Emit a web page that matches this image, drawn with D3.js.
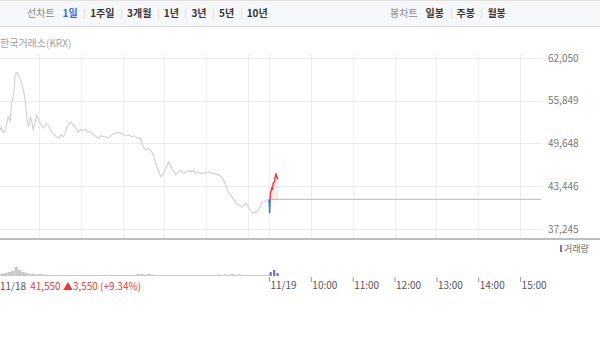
<!DOCTYPE html>
<html>
<head>
<meta charset="utf-8">
<script src="https://cdn.jsdelivr.net/npm/d3@7"></script>
<style>
    body { margin: 0; background: #fff; }
    svg { display: block; font-family: "Noto Sans CJK KR", "Noto Sans", sans-serif; }
</style>
</head>
<body>
<div id="chart-container"></div>
<script>
(function () {
    'use strict';

    var width = 600;
    var height = 343;

    // 11/18 (previous session) price points
    var prevTimes = ['09:00', '09:02', '09:04', '09:06', '09:09', '09:12', '09:14', '09:16', '09:19', '09:21', '09:24',
        '09:26', '09:28', '09:31', '09:34', '09:38', '09:41', '09:43', '09:45', '09:48', '09:50', '09:52', '09:55',
        '09:57', '10:00', '10:02', '10:05', '10:07', '10:11', '10:14', '10:18', '10:22', '10:25', '10:28', '10:32', '10:35',
        '10:38', '10:40', '10:43', '10:46', '10:50', '10:54', '10:57', '11:00', '11:02', '11:07', '11:10', '11:12', '11:16',
        '11:21', '11:26', '11:29', '11:31', '11:36', '11:40', '11:44', '11:49', '11:54', '12:00', '12:05', '12:09',
        '12:13', '12:17', '12:20', '12:26', '12:28', '12:30', '12:33', '12:36', '12:40', '12:43', '12:45', '12:49',
        '12:52', '12:55', '12:59', '13:03', '13:06', '13:10', '13:13', '13:16', '13:20', '13:23', '13:27', '13:31',
        '13:35', '13:39', '13:42', '13:44', '13:49', '13:52', '13:55', '14:00', '14:04', '14:08', '14:13', '14:18',
        '14:22', '14:25', '14:28', '14:30', '14:32', '14:35', '14:37', '14:40', '14:42', '14:45', '14:47', '14:51',
        '14:54', '14:57', '15:01', '15:04', '15:06', '15:09', '15:11', '15:14', '15:16', '15:20', '15:23', '15:26',
        '15:30'];
    var prevPrices = [50700, 50300, 51500, 52050, 51200, 51600, 52600, 53500, 52900, 55500, 56800,
        59600, 59900, 59400, 58850, 57400, 55500, 53100, 52050, 53500, 52700, 51600, 52900,
        53800, 52900, 52600, 52100, 51900, 52500, 52350, 51300, 51000, 50600, 50450, 50900, 50600,
        51200, 51900, 52500, 52750, 52350, 51700, 51300, 51700, 51450, 51750, 51300, 51400, 51150,
        50700, 50450, 50800, 50700, 50600, 50450, 50900, 51100, 51300, 51000, 50750, 50900,
        50600, 50800, 50500, 50300, 49600, 49150, 48700, 49000, 48700, 48200, 47700, 46250,
        45600, 44800, 45350, 46300, 46950, 46100, 45700, 45100, 45500, 45800, 45400, 45500,
        45700, 45500, 45800, 45300, 45500, 45250, 45400, 45350, 45500, 45350, 45200, 45100,
        44800, 44300, 43650, 43000, 42450, 42200, 41900, 41500, 41150, 40800, 40700, 40450,
        40700, 41000, 40300, 39900, 39550, 39700, 39550, 39900, 40300, 41150, 41200, 41300,
        41550];

    // 11/19 (current session) price points
    var todayTimes = ['09:00', '09:01', '09:02', '09:04', '09:05', '09:06', '09:08', '09:09', '09:10', '09:11', '09:12', '09:13'];
    var todayPrices = [41550, 39550, 42400, 43150, 42900, 43900, 44100, 44900, 45300, 44850, 44600, 44450];

    // 5-minute volume, 11/18 and 11/19
    var prevVolume = [33000, 22000, 33000, 44000, 56000, 100000, 67000, 44000, 33000, 22000,
        22000, 17000, 22000, 17000, 11000, 11000, 11000, 11000, 11000, 11000,
        11000, 11000, 11000, 11000, 11000, 11000, 11000, 11000, 11000, 11000,
        11000, 11000, 11000, 11000, 11000, 11000, 11000, 11000, 11000, 11000,
        22000, 22000, 11000, 22000, 17000, 11000, 11000, 11000, 11000, 11000,
        11000, 11000, 11000, 11000, 11000, 11000, 11000, 11000, 11000, 11000,
        11000, 11000, 11000, 17000, 11000, 17000, 11000, 22000, 11000, 17000,
        11000, 11000, 11000, 11000, 11000, 11000, 11000, 11000];
    var todayVolume = [44000, 67000, 33000];

    var prevClose = 41550;
    var basePrice = 38000;
    var yTicks = [37245, 43446, 49648, 55849, 62050];
    var hourTicks = ['10:00', '11:00', '12:00', '13:00', '14:00', '15:00'];
    var dayLabels = ['11/18', '11/19'];

    var rangeButtons = ['1일', '1주일', '3개월', '1년', '3년', '5년', '10년'];
    var candleButtons = ['일봉', '주봉', '월봉'];

    var sessionLen = 390;

    function minuteOf(t) {
        var p = t.split(':');
        return (+p[0] - 9) * 60 + (+p[1]);
    }

    var prevData = prevTimes.map(function (t, i) {
        return { m: minuteOf(t), v: prevPrices[i] };
    });
    var todayData = todayTimes.map(function (t, i) {
        return { m: sessionLen + minuteOf(t), v: todayPrices[i] };
    });

    var x = d3.scaleLinear().domain([0, sessionLen * 2]).range([-3, 541]);
    var y = d3.scaleLinear().domain([37245, 62050]).range([229, 58]);
    var yVol = d3.scaleLinear().domain([0, 400000]).range([276, 240]);

    var svg = d3.select('#chart-container')
        .append('svg')
        .attr('width', width)
        .attr('height', height);

    // top toolbar
    svg.append('rect')
        .attr('x', 0).attr('y', 0)
        .attr('width', width).attr('height', 26)
        .style('fill', '#f6f7f9');
    svg.append('line')
        .attr('x1', 0).attr('x2', width)
        .attr('y1', 0.5).attr('y2', 0.5)
        .style('stroke', '#e2e2e2');
    svg.append('line')
        .attr('x1', 0).attr('x2', width)
        .attr('y1', 26.5).attr('y2', 26.5)
        .style('stroke', '#d9d9d9');

    function toolbar(label, items, startX, active) {
        var g = svg.append('g').attr('class', 'toolbar');
        var tx = startX;
        var t = g.append('text')
            .attr('x', tx).attr('y', 17)
            .style('font-size', '10px')
            .style('fill', '#8a8a8a')
            .text(label);
        tx += t.node().getComputedTextLength() + 8;
        items.forEach(function (d, i) {
            if (i > 0) {
                g.append('line')
                    .attr('x1', Math.round(tx - 6) + 0.5).attr('x2', Math.round(tx - 6) + 0.5)
                    .attr('y1', 9).attr('y2', 19)
                    .style('stroke', '#dedede');
            }
            var it = g.append('text')
                .attr('x', tx).attr('y', 17)
                .style('font-size', '10px')
                .style('font-weight', 'bold')
                .style('fill', d === active ? '#3c6ad4' : '#333')
                .text(d);
            tx += it.node().getComputedTextLength() + 12.5;
        });
    }
    toolbar('선차트', rangeButtons, 27, '1일');
    toolbar('봉차트', candleButtons, 390, null);

    svg.append('text')
        .attr('x', 0).attr('y', 47)
        .style('font-size', '10px')
        .style('fill', '#a0a0a0')
        .text('한국거래소(KRX)');

    // grid
    var hourGrid = [];
    d3.range(1, 7).forEach(function (h) { hourGrid.push(h * 60); });
    hourGrid.push(sessionLen);
    d3.range(1, 7).forEach(function (h) { hourGrid.push(sessionLen + h * 60); });

    svg.append('g')
        .attr('class', 'vgrid')
        .selectAll('line')
        .data(hourGrid)
        .enter()
        .append('line')
        .attr('x1', function (d) { return Math.round(x(d)) + 0.5; })
        .attr('x2', function (d) { return Math.round(x(d)) + 0.5; })
        .attr('y1', 54).attr('y2', 238)
        .style('stroke', '#efefef');

    svg.append('g')
        .attr('class', 'hgrid')
        .selectAll('line')
        .data(yTicks)
        .enter()
        .append('line')
        .attr('x1', 0).attr('x2', 541)
        .attr('y1', function (d) { return Math.round(y(d)) + 0.5; })
        .attr('y2', function (d) { return Math.round(y(d)) + 0.5; })
        .style('stroke', '#ececec');

    var yAxis = svg.append('g')
        .attr('class', 'y-axis')
        .attr('transform', 'translate(548,0)')
        .call(d3.axisRight(y).tickValues(yTicks).tickFormat(d3.format(',')).tickSize(0).tickPadding(0));
    yAxis.select('.domain').remove();
    yAxis.selectAll('text')
        .style('font-size', '10px')
        .style('font-family', '"Noto Sans CJK KR", sans-serif')
        .style('fill', '#777');

    // previous close line for today
    svg.append('line')
        .attr('x1', x(sessionLen)).attr('x2', x(sessionLen * 2))
        .attr('y1', y(prevClose)).attr('y2', y(prevClose))
        .style('stroke', '#b8b8b8')
        .style('stroke-width', '1');

    // previous session line
    var line = d3.line()
        .x(function (d) { return x(d.m); })
        .y(function (d) { return y(d.v); });

    svg.append('path')
        .datum(prevData)
        .attr('d', line)
        .style('fill', 'none')
        .style('stroke', '#d0d0d0')
        .style('stroke-width', '1.1');

    // today: red above prev close, blue below
    var defs = svg.append('defs');
    defs.append('clipPath').attr('id', 'clip-up')
        .append('rect')
        .attr('x', 0).attr('y', 0)
        .attr('width', width).attr('height', y(prevClose));
    defs.append('clipPath').attr('id', 'clip-down')
        .append('rect')
        .attr('x', 0).attr('y', y(prevClose))
        .attr('width', width).attr('height', height - y(prevClose));

    var area = d3.area()
        .x(function (d) { return x(d.m); })
        .y0(y(prevClose))
        .y1(function (d) { return y(d.v); });

    svg.append('path')
        .datum(todayData)
        .attr('d', area)
        .attr('clip-path', 'url(#clip-up)')
        .style('fill', 'rgba(240,80,90,0.13)');
    svg.append('path')
        .datum(todayData)
        .attr('d', area)
        .attr('clip-path', 'url(#clip-down)')
        .style('fill', 'rgba(60,110,210,0.13)');
    svg.append('path')
        .datum(todayData)
        .attr('d', line)
        .attr('clip-path', 'url(#clip-up)')
        .style('fill', 'none')
        .style('stroke', '#e8383d')
        .style('stroke-width', '1.4');
    svg.append('path')
        .datum(todayData)
        .attr('d', line)
        .attr('clip-path', 'url(#clip-down)')
        .style('fill', 'none')
        .style('stroke', '#3b6fd3')
        .style('stroke-width', '1.4');

    // panel separator
    svg.append('line')
        .attr('x1', 0).attr('x2', width)
        .attr('y1', 239).attr('y2', 239)
        .style('stroke', '#a8a8a8')
        .style('stroke-width', '1.6');

    // volume bars
    var slot = 5;
    var barW = x(slot) - x(0);
    svg.append('g')
        .attr('class', 'vol-prev')
        .selectAll('rect')
        .data(prevVolume)
        .enter()
        .append('rect')
        .attr('x', function (d, i) { return x(i * slot); })
        .attr('y', function (d) { return yVol(d); })
        .attr('width', barW)
        .attr('height', function (d) { return yVol(0) - yVol(d); })
        .style('fill', '#c8c8c8');

    svg.append('g')
        .attr('class', 'vol-today')
        .selectAll('rect')
        .data(todayVolume)
        .enter()
        .append('rect')
        .attr('x', function (d, i) { return x(sessionLen + i * slot) + 0.5; })
        .attr('y', function (d) { return yVol(d); })
        .attr('width', barW - 1.2)
        .attr('height', function (d) { return yVol(0) - yVol(d); })
        .style('fill', '#7d6fc4');

    // volume legend
    svg.append('rect')
        .attr('x', 560).attr('y', 245)
        .attr('width', 2).attr('height', 7)
        .style('fill', '#7d6fc4');
    svg.append('text')
        .attr('x', 564).attr('y', 252)
        .style('font-size', '9px')
        .style('fill', '#666')
        .text('거래량');

    // time axis for today
    var xTickVals = [sessionLen].concat(hourTicks.map(function (t) { return sessionLen + minuteOf(t); }));
    var xAxis = svg.append('g')
        .attr('class', 'x-axis')
        .attr('transform', 'translate(0,277)')
        .call(d3.axisBottom(x)
            .tickValues(xTickVals)
            .tickSize(5)
            .tickPadding(0)
            .tickFormat(function (d, i) { return i === 0 ? dayLabels[1] : hourTicks[i - 1]; }));
    xAxis.select('.domain').remove();
    xAxis.selectAll('.tick line').style('stroke', '#999');
    xAxis.selectAll('text')
        .attr('text-anchor', 'start')
        .attr('dx', '1')
        .style('font-size', '10px')
        .style('font-family', '"Noto Sans CJK KR", sans-serif')
        .style('fill', '#555');

    // previous day info
    var dayText = svg.append('text')
        .attr('x', 0).attr('y', 290)
        .style('font-size', '10px')
        .style('fill', '#555')
        .text(dayLabels[0]);
    var change = prevClose - basePrice;
    svg.append('text')
        .attr('x', dayText.node().getComputedTextLength() + 4).attr('y', 290)
        .style('font-size', '10px')
        .style('fill', '#e8383d')
        .text(d3.format(',')(prevClose) + ' ▲' + d3.format(',')(change) +
            ' (+' + d3.format('.2f')(change / basePrice * 100) + '%)');
}());
</script>
</body>
</html>
